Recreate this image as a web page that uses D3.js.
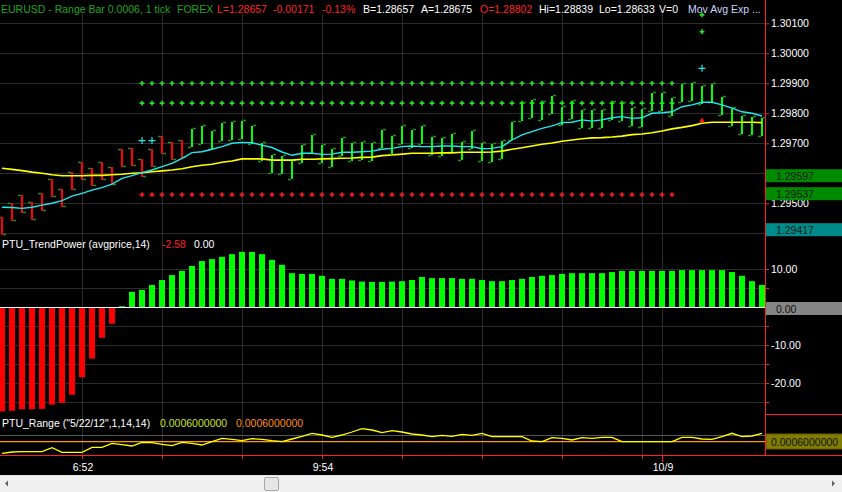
<!DOCTYPE html>
<html><head><meta charset="utf-8">
<script src="https://cdn.jsdelivr.net/npm/d3@7"></script>
<style>body{margin:0;background:#000;overflow:hidden}svg{display:block;font-family:"Liberation Sans",Arial,sans-serif}</style>
</head><body><svg id="c" width="842" height="492"></svg>
<script>
// ---------------- DATA ----------------
const highs = [1.29455,1.29501,1.29528,1.29504,1.29534,1.29581,1.29548,1.29604,1.29638,1.29618,
 1.29638,1.29621,1.29681,1.29684,1.29648,1.29681,1.29724,1.29704,1.29711,1.29748,
 1.29758,1.29741,1.29768,1.29771,1.29774,1.29758,1.29701,1.29661,1.29658,1.29642,
 1.29694,1.29728,1.29694,1.29681,1.29718,1.29701,1.29704,1.29701,1.29744,1.29724,
 1.29758,1.29744,1.29758,1.29721,1.29718,1.29731,1.29704,1.29741,1.29701,1.29698,
 1.29708,1.29771,1.29834,1.29844,1.29838,1.29858,1.29821,1.29841,1.29811,1.29811,
 1.29811,1.29838,1.29834,1.29818,1.29814,1.29868,1.29868,1.29851,1.29898,1.29901,
 1.29891,1.29898,1.29854,1.29818,1.29791,1.29788,1.29784];
const lows = [1.29395,1.29441,1.29468,1.29444,1.29474,1.29521,1.29488,1.29544,1.29578,1.29558,
 1.29578,1.29561,1.29621,1.29624,1.29588,1.29621,1.29664,1.29644,1.29651,1.29688,
 1.29698,1.29681,1.29708,1.29711,1.29714,1.29698,1.29641,1.29601,1.29598,1.29582,
 1.29634,1.29668,1.29634,1.29621,1.29658,1.29641,1.29644,1.29641,1.29684,1.29664,
 1.29698,1.29684,1.29698,1.29661,1.29658,1.29671,1.29644,1.29681,1.29641,1.29638,
 1.29648,1.29711,1.29774,1.29784,1.29778,1.29798,1.29761,1.29781,1.29751,1.29751,
 1.29751,1.29778,1.29774,1.29758,1.29754,1.29808,1.29808,1.29791,1.29838,1.29841,
 1.29831,1.29838,1.29794,1.29758,1.29731,1.29728,1.29724];
const opens = [1.29455,1.29501,1.29528,1.29504,1.29534,1.29581,1.29548,1.29604,1.29638,1.29618,
 1.29638,1.29621,1.29681,1.29684,1.29648,1.29681,1.29724,1.29704,1.29711,1.29688,
 1.29698,1.29681,1.29708,1.29711,1.29714,1.29698,1.29641,1.29601,1.29598,1.29582,
 1.29634,1.29668,1.29634,1.29621,1.29658,1.29641,1.29644,1.29641,1.29684,1.29664,
 1.29698,1.29684,1.29698,1.29661,1.29658,1.29671,1.29644,1.29681,1.29641,1.29638,
 1.29648,1.29711,1.29774,1.29784,1.29778,1.29798,1.29761,1.29781,1.29751,1.29751,
 1.29751,1.29778,1.29774,1.29758,1.29754,1.29808,1.29808,1.29791,1.29838,1.29841,
 1.29831,1.29838,1.29794,1.29758,1.29731,1.29728,1.29724];
const closes = [1.29395,1.29441,1.29468,1.29444,1.29474,1.29521,1.29488,1.29544,1.29578,1.29558,
 1.29578,1.29561,1.29621,1.29624,1.29588,1.29621,1.29664,1.29644,1.29651,1.29748,
 1.29758,1.29741,1.29768,1.29771,1.29774,1.29758,1.29701,1.29661,1.29658,1.29642,
 1.29694,1.29728,1.29694,1.29681,1.29718,1.29701,1.29704,1.29701,1.29744,1.29724,
 1.29758,1.29744,1.29758,1.29721,1.29718,1.29731,1.29704,1.29741,1.29701,1.29698,
 1.29708,1.29771,1.29834,1.29844,1.29838,1.29858,1.29821,1.29841,1.29811,1.29811,
 1.29811,1.29838,1.29834,1.29818,1.29814,1.29868,1.29868,1.29851,1.29898,1.29901,
 1.29891,1.29898,1.29854,1.29818,1.29791,1.29788,1.29784];
const barColors = ["r","r","r","r","r","r","r","r","r","r","r","r","r","r","r","r","r","r","r",
 "g","g","g","g","g","g","g","g","g","g","g","g","g","g","g","g","g","g","g","g","g",
 "g","g","g","g","g","g","g","g","g","g","g","g","g","g","g","g","g","g","g","g","g",
 "g","g","g","g","g","g","g","g","g","g","g","g","g","g","g","g"];
const emaFast = [1.29487,1.29486,1.29483,1.29487,1.29494,1.29500,1.29509,1.29524,1.29533,1.29544,
 1.29552,1.29564,1.29583,1.29592,1.29602,1.29611,1.29622,1.29633,1.29650,1.29669,
 1.29672,1.29680,1.29689,1.29700,1.29703,1.29702,1.29694,1.29686,1.29671,1.29660,
 1.29667,1.29667,1.29663,1.29664,1.29670,1.29670,1.29672,1.29674,1.29680,1.29683,
 1.29689,1.29691,1.29689,1.29689,1.29691,1.29691,1.29689,1.29689,1.29682,1.29683,
 1.29689,1.29711,1.29728,1.29739,1.29750,1.29758,1.29769,1.29770,1.29778,1.29774,
 1.29778,1.29785,1.29789,1.29783,1.29785,1.29800,1.29802,1.29805,1.29822,1.29828,
 1.29837,1.29837,1.29828,1.29817,1.29805,1.29800,1.29791];
const emaSlow = [1.29617,1.29613,1.29609,1.29604,1.29600,1.29595,1.29592,1.29592,1.29592,1.29593,
 1.29593,1.29595,1.29597,1.29600,1.29602,1.29605,1.29608,1.29611,1.29615,1.29622,
 1.29627,1.29630,1.29637,1.29641,1.29648,1.29648,1.29648,1.29644,1.29644,1.29644,
 1.29647,1.29647,1.29648,1.29649,1.29650,1.29651,1.29653,1.29654,1.29659,1.29661,
 1.29664,1.29667,1.29667,1.29667,1.29668,1.29668,1.29670,1.29670,1.29670,1.29671,
 1.29674,1.29680,1.29685,1.29691,1.29697,1.29701,1.29707,1.29711,1.29715,1.29718,
 1.29719,1.29721,1.29724,1.29729,1.29731,1.29735,1.29741,1.29748,1.29753,1.29759,
 1.29767,1.29770,1.29770,1.29770,1.29770,1.29770,1.29769];
// level dots (bars 14..67)
const levelBars = [14,15,16,17,18,19,20,21,22,23,24,25,26,27,28,29,30,31,32,33,34,35,36,37,38,39,40,
 41,42,43,44,45,46,47,48,49,50,51,52,53,54,55,56,57,58,59,60,61,62,63,64,65,66,67];
const upperLevel = 1.29900, middleLevel = 1.29834, lowerLevel = 1.29529;
const cyanMarks = [{bar:14,price:1.29709},{bar:15,price:1.29709},{bar:70,price:1.29950}];
const greenMarks = [{bar:70,price:1.30128},{bar:70,price:1.30072}];
const redMarks = [{bar:70,price:1.29775}];
const priceTicks = [1.301,1.300,1.299,1.298,1.297,1.296,1.295,1.294];
const priceLabelTicks = [1.301,1.300,1.299,1.298,1.297,1.295];
const priceBoxes = [{v:1.29597,c:"#008a00"},{v:1.29537,c:"#008a00"},{v:1.29417,c:"#008b8b"}];

const trendPower = [-27.5,-27.3,-26.9,-26.9,-26.8,-25.7,-25.2,-23.1,-18.5,-13.6,-8.1,-4.4,0.2,
 4.0,4.5,5.8,7.1,8.4,9.5,10.8,12.1,12.6,13.2,13.9,14.5,14.5,13.9,12.4,11.1,8.9,
 8.7,8.7,8.2,7.4,7.4,7.0,6.7,6.6,6.6,6.7,6.8,7.1,
 7.9,7.6,7.6,7.6,7.4,7.4,7.1,6.8,6.8,7.1,7.4,7.9,8.2,8.4,8.7,8.9,8.9,8.9,8.9,9.2,
 9.5,9.5,9.5,9.5,9.5,9.5,9.7,9.7,9.7,9.7,9.7,9.2,8.2,6.8,5.8];
const trendTicks = [10,-10,-20];
const trendMinor = [10,5,0,-5,-10,-15,-20,-25];

const rangeVals = [0.0005884,0.0005897,0.0005900,0.0005900,0.0005900,0.0005940,0.0005894,0.0005894,0.0005894,0.0005944,
 0.0005944,0.0005984,0.0005970,0.0005957,0.0005994,0.0005990,0.0005974,0.0005960,0.0005994,0.0005984,
 0.0005967,0.0006000,0.0006034,0.0006024,0.0006010,0.0006030,0.0006024,0.0006010,0.0006000,0.0006027,
 0.0006054,0.0006084,0.0006067,0.0006044,0.0006067,0.0006097,0.0006130,0.0006117,0.0006090,0.0006110,
 0.0006097,0.0006077,0.0006067,0.0006050,0.0006064,0.0006054,0.0006074,0.0006064,0.0006084,0.0006050,
 0.0006050,0.0006050,0.0006050,0.0006007,0.0006000,0.0006040,0.0006034,0.0006017,0.0006040,0.0006034,
 0.0006044,0.0006044,0.0006000,0.0006000,0.0006000,0.0006000,0.0006000,0.0006000,0.0006044,0.0006044,
 0.0006027,0.0006024,0.0006050,0.0006084,0.0006050,0.0006057,0.0006084];
const rangeLevel = 0.0006;
const rangeGrid = [0.0006067];

const timeGridBars = [8,16,24,32,40,48,56,64,66];
const timeLabels = [{bar:8,t:"6:52"},{bar:32,t:"9:54"},{bar:66,t:"10/9"}];
const dateBar = 66;

const legend = [
 {t:"EURUSD - Range Bar 0.0006, 1 tick",x:1,c:"#1fa51f"},{t:"FOREX",x:177,c:"#1fa51f"},
 {t:"L=1.28657",x:217,c:"#ff2020"},{t:"-0.00171",x:273,c:"#ff2020"},{t:"-0.13%",x:322,c:"#ff2020"},
 {t:"B=1.28657",x:363,c:"#ffffff"},{t:"A=1.28675",x:421,c:"#ffffff"},{t:"O=1.28802",x:480,c:"#ff2020"},
 {t:"Hi=1.28839",x:539,c:"#ffffff"},{t:"Lo=1.28633",x:599,c:"#ffffff"},{t:"V=0",x:659,c:"#ffffff"},
 {t:"Mov Avg Exp ...",x:688,c:"#c8d4ff"}];

// ---------------- SCALES ----------------
const svg = d3.select("#c");
const plotR = 765;
const idx = d3.range(highs.length);
const x = d3.scaleBand().domain(idx).range([-3,767]).paddingInner(0.4).paddingOuter(0.2);
const cx = i => x(i) + x.bandwidth()/2;
const yP = d3.scaleLinear().domain([1.294,1.301]).range([233.3,23.3]);
const yT = d3.scaleLinear().domain([-25,10]).range([402,269]);
const yR = d3.scaleLinear().domain([0.00058,0.00062]).range([461.7,421.7]);
const FS = "10.5px";

svg.append("rect").attr("width",842).attr("height",492).attr("fill","#000");

// ---------------- GRID ----------------
const grid = svg.append("g").attr("stroke","#2c2c2c").attr("stroke-width",1);
grid.selectAll(".vg").data(timeGridBars).join("line")
  .attr("x1",d=>Math.round(cx(d))+0.5).attr("x2",d=>Math.round(cx(d))+0.5).attr("y1",14).attr("y2",455);
grid.selectAll(".hp").data(priceTicks).join("line")
  .attr("x1",0).attr("x2",plotR).attr("y1",d=>Math.round(yP(d))+0.5).attr("y2",d=>Math.round(yP(d))+0.5);
grid.selectAll(".ht").data(trendMinor.filter(d=>d!==0)).join("line")
  .attr("x1",0).attr("x2",plotR).attr("y1",d=>Math.round(yT(d))+0.5).attr("y2",d=>Math.round(yT(d))+0.5);
grid.selectAll(".hr").data(rangeGrid).join("line")
  .attr("x1",0).attr("x2",plotR).attr("y1",d=>Math.round(yR(d))+0.5).attr("y2",d=>Math.round(yR(d))+0.5)
  .attr("stroke","#555");

// ---------------- PRICE PANEL ----------------
svg.append("clipPath").attr("id","cp").append("rect").attr("x",0).attr("y",0).attr("width",plotR).attr("height",238);
const pp = svg.append("g").attr("clip-path","url(#cp)");
const cross = d3.symbol(d3.symbolCross).size(13);
const dotLevels = [{v:upperLevel,c:"#22e022"},{v:middleLevel,c:"#22e022"},{v:lowerLevel,c:"#ff1a1a"}];
dotLevels.forEach(L=>{
  pp.append("g").selectAll("path").data(levelBars).join("path")
    .attr("d",cross).attr("fill",L.c)
    .attr("transform",d=>`translate(${cx(d)},${yP(L.v)})`);
});
// bars
const ob = pp.append("g");
idx.forEach(i=>{
  const xc = Math.round(cx(i));
  ob.append("line").attr("x1",xc).attr("x2",xc).attr("y1",yP(highs[i])).attr("y2",yP(lows[i]))
    .attr("stroke",barColors[i]==="r"?"#ff0000":"#00ff00").attr("stroke-width",2);
  ob.append("line").attr("x1",xc-4).attr("x2",xc-1).attr("y1",Math.round(yP(opens[i]))+0.5).attr("y2",Math.round(yP(opens[i]))+0.5)
    .attr("stroke","#1f8f1f").attr("stroke-width",1.5);
  ob.append("line").attr("x1",xc+1).attr("x2",xc+4).attr("y1",Math.round(yP(closes[i]))-0.5).attr("y2",Math.round(yP(closes[i]))-0.5)
    .attr("stroke","#1f8f1f").attr("stroke-width",1.5);
});
const lineP = d3.line().x((d,i)=>cx(i)).y(d=>yP(d));
pp.append("path").datum(emaSlow).attr("d",lineP).attr("fill","none").attr("stroke","#ffff00").attr("stroke-width",1.6);
pp.append("path").datum(emaFast).attr("d",lineP).attr("fill","none").attr("stroke","#22e8f0").attr("stroke-width",1.4);
// markers
pp.append("g").selectAll("path").data(cyanMarks).join("path")
  .attr("d",d=>{const X=cx(d.bar),Y=yP(d.price);return `M${X-3.5},${Y}H${X+3.5}M${X},${Y-3.5}V${Y+3.5}`;})
  .attr("stroke","#22e8f0").attr("stroke-width",1.2);
svg.append("g").selectAll("path").data(greenMarks).join("path")
  .attr("d",cross).attr("fill","#22e022").attr("transform",d=>`translate(${cx(d.bar)},${yP(d.price)})`);
pp.append("g").selectAll("path").data(redMarks).join("path")
  .attr("d",d3.symbol(d3.symbolTriangle).size(14)).attr("fill","#ff1a1a").attr("transform",d=>`translate(${cx(d.bar)},${yP(d.price)})`);

// legend
legend.forEach(l=>svg.append("text").attr("x",l.x).attr("y",13).attr("fill",l.c).attr("font-size",FS).text(l.t));

// price axis
const axP = svg.append("g").attr("transform",`translate(${plotR},0)`)
  .call(d3.axisRight(yP).tickValues(priceTicks).tickFormat(d=>priceLabelTicks.includes(d)?d.toFixed(5):"").tickSize(4).tickPadding(2));
axP.select(".domain").remove();
axP.selectAll("line").attr("stroke","#ff2020");
axP.selectAll("text").attr("fill","#fff").attr("font-size",FS).attr("font-family","Liberation Sans, Arial, sans-serif");
const pb = svg.append("g").selectAll("g").data(priceBoxes).join("g");
pb.append("rect").attr("x",plotR+1).attr("y",d=>yP(d.v)-5).attr("width",842-plotR).attr("height",13).attr("fill",d=>d.c);
pb.append("text").attr("x",plotR+11).attr("y",d=>yP(d.v)+5.5).attr("fill","#0d1a0d").attr("font-size",FS).text(d=>d.v.toFixed(5));

// ---------------- TREND POWER PANEL ----------------
svg.append("g").selectAll("rect").data(trendPower).join("rect")
  .attr("x",(d,i)=>x(i)).attr("width",x.bandwidth())
  .attr("y",d=>Math.min(yT(d),yT(0))).attr("height",d=>Math.max(1,Math.abs(yT(d)-yT(0))))
  .attr("fill",d=>d<0?"#ff0000":"#00ff00");
svg.append("line").attr("x1",0).attr("x2",plotR).attr("y1",yT(0)+0.5).attr("y2",yT(0)+0.5).attr("stroke","#fff").attr("stroke-width",1.2);
svg.append("text").attr("x",2).attr("y",248).attr("font-size",FS).attr("fill","#fff").text("PTU_TrendPower (avgprice,14)");
svg.append("text").attr("x",162).attr("y",248).attr("font-size",FS).attr("fill","#ff2020").text("-2.58");
svg.append("text").attr("x",194).attr("y",248).attr("font-size",FS).attr("fill","#fff").text("0.00");
const axT = svg.append("g").attr("transform",`translate(${plotR},0)`)
  .call(d3.axisRight(yT).tickValues(trendMinor).tickFormat(d=>trendTicks.includes(d)?d.toFixed(2):"").tickSize(4).tickPadding(2));
axT.select(".domain").remove();
axT.selectAll("line").attr("stroke","#ff2020");
axT.selectAll("text").attr("fill","#fff").attr("font-size",FS).attr("font-family","Liberation Sans, Arial, sans-serif");
svg.append("rect").attr("x",plotR+1).attr("y",yT(0)-5).attr("width",842-plotR).attr("height",13).attr("fill","#858585");
svg.append("text").attr("x",plotR+11).attr("y",yT(0)+5.5).attr("font-size",FS).attr("fill","#111").text((0).toFixed(2));

// ---------------- RANGE PANEL ----------------
svg.append("line").attr("x1",0).attr("x2",plotR).attr("y1",yR(rangeLevel)).attr("y2",yR(rangeLevel)).attr("stroke","#ff9900").attr("stroke-width",1.2);
svg.append("path").datum(rangeVals).attr("d",d3.line().x((d,i)=>cx(i)).y(d=>yR(d))).attr("fill","none").attr("stroke","#ffff00").attr("stroke-width",1.3);
svg.append("text").attr("x",2).attr("y",427).attr("font-size",FS).attr("fill","#fff").text('PTU_Range ("5/22/12",1,14,14)');
svg.append("text").attr("x",160).attr("y",427).attr("font-size",FS).attr("fill","#c8e030").text(rangeLevel.toFixed(10));
svg.append("text").attr("x",236).attr("y",427).attr("font-size",FS).attr("fill","#ff8c1a").text(rangeLevel.toFixed(10));
svg.append("rect").attr("x",plotR+1).attr("y",434).attr("width",842-plotR).attr("height",15).attr("fill","#807d00").attr("stroke","#6a5a00");
svg.append("text").attr("x",plotR+6).attr("y",445.5).attr("font-size",FS).attr("fill","#111").text(rangeLevel.toFixed(10));

// ---------------- FRAME / TIME AXIS ----------------
svg.append("line").attr("x1",plotR+0.5).attr("x2",plotR+0.5).attr("y1",0).attr("y2",456).attr("stroke","#ff2020");
svg.append("line").attr("x1",plotR).attr("x2",842).attr("y1",414.5).attr("y2",414.5).attr("stroke","#ff2020");
svg.append("line").attr("x1",0).attr("x2",842).attr("y1",455.5).attr("y2",455.5).attr("stroke","#ff2020");
svg.append("g").selectAll("line").data(timeGridBars).join("line")
  .attr("x1",d=>Math.round(cx(d))+0.5).attr("x2",d=>Math.round(cx(d))+0.5)
  .attr("y1",455).attr("y2",d=>d===dateBar?462:459).attr("stroke","#ff2020");
svg.append("g").selectAll("text").data(timeLabels).join("text")
  .attr("x",d=>cx(d.bar)+1).attr("y",471).attr("text-anchor","middle").attr("fill","#fff").attr("font-size",FS).text(d=>d.t);

// scrollbar
svg.append("rect").attr("x",0).attr("y",475).attr("width",842).attr("height",17).attr("fill","#f0f0f0");
svg.append("line").attr("x1",0).attr("x2",842).attr("y1",475.5).attr("y2",475.5).attr("stroke","#e3e3e3");
svg.append("path").attr("d","M5,483.5L8,480.5V486.5Z").attr("fill","#606060");
svg.append("path").attr("d","M835,483.5L832,480.5V486.5Z").attr("fill","#606060");
svg.append("rect").attr("x",264.5).attr("y",477.5).attr("width",14).attr("height",13).attr("rx",1.5)
  .attr("fill","#e6e6e6").attr("stroke","#a8a8a8");
</script></body></html>
